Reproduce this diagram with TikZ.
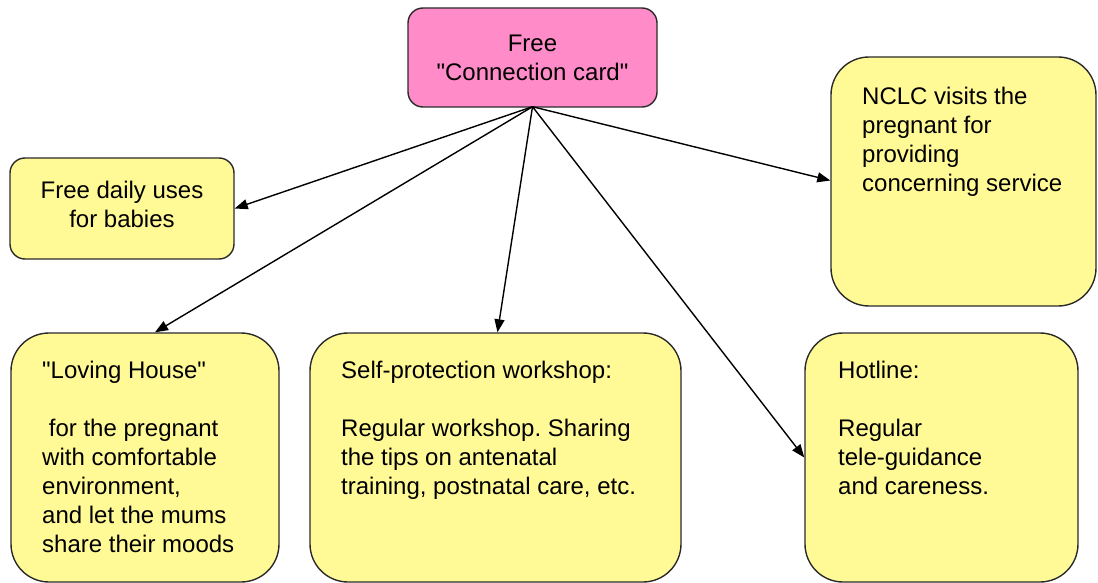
\documentclass[tikz,border=0pt]{standalone}
\usepackage{fontspec}
\setmainfont{Liberation Sans}[Ligatures=TeXOff]
\usetikzlibrary{arrows.meta}
\frenchspacing
\definecolor{boxyellow}{HTML}{FFFA96}
\definecolor{boxpink}{HTML}{FF8CC8}
\definecolor{edgegray}{HTML}{2A2A2A}
\newcommand{\firststrut}{\rule{0pt}{20pt}}
\begin{document}
\begin{tikzpicture}[x=1pt,y=-1pt,
  every node/.style={font=\fontsize{24}{29}\selectfont},
  ybox/.style={draw=edgegray,line width=1.4pt,fill=boxyellow,rounded corners=38pt,inner sep=0pt},
  sbox/.style={draw=edgegray,line width=1.4pt,rounded corners=15pt,inner sep=0pt,align=center},
  txt/.style={anchor=north west,align=left,inner sep=0pt},
  conn/.style={line width=1.4pt,-{Triangle[length=13pt,width=10pt]}}]
\useasboundingbox (0,0) rectangle (1098,583);
% top node
\node[sbox,fill=boxpink,minimum width=249pt,minimum height=99pt] (card) at (532.5,57.5) {Free\\"Connection card"};
% small left box
\node[sbox,fill=boxyellow,minimum width=224pt,minimum height=101pt] (daily) at (122,208.5) {};
\node[align=center,inner sep=0pt] (dailytxt) at (122,204) {Free daily uses\\for babies};
% NCLC
\node[ybox,minimum width=265pt,minimum height=249pt] (nclc) at (963.5,181.5) {};
\node[txt] (nclctxt) at (862,84) {\firststrut NCLC visits the\\pregnant for\\providing\\concerning service};
% bottom boxes
\node[ybox,minimum width=268pt,minimum height=249pt] (loving) at (145,457.5) {};
\node[txt] (lovingtxt) at (42,358) {\firststrut"Loving House"\\[29pt]\hspace*{6.7pt}for the pregnant\\with comfortable\\environment,\\and let the mums\\share their moods};
\node[ybox,minimum width=371pt,minimum height=249pt] (self) at (495.5,457.5) {};
\node[txt] (selftxt) at (341,358) {\firststrut Self-protection workshop:\\[29pt]Regular workshop. Sharing\\the tips on antenatal\\training, postnatal care, etc.};
\node[ybox,minimum width=273pt,minimum height=249pt] (hot) at (941.5,457.5) {};
\node[txt] (hottxt) at (838,358) {\firststrut Hotline:\\[29pt]Regular\\tele-guidance\\and careness.};
% connectors
\coordinate (src) at ([yshift=1pt]card.south);
\draw[conn] (src) -- (daily.east);
\draw[conn] (src) -- ([yshift=1pt]nclc.west);
\draw[conn] (src) -- ([xshift=10pt]loving.north);
\draw[conn] (src) -- ([xshift=2pt]self.north);
\draw[conn] (src) -- (hot.west);
\end{tikzpicture}
\end{document}
